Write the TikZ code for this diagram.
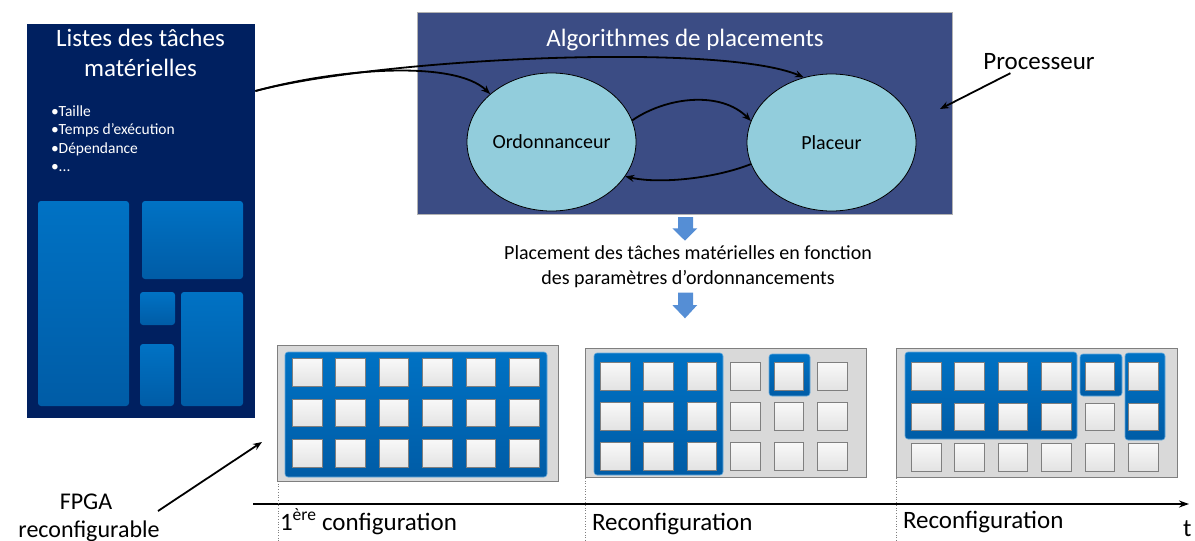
\documentclass[tikz,border=0pt]{standalone}
\usepackage{fontspec}
\setmainfont{Carlito}
\usetikzlibrary{arrows.meta,shapes.geometric}
\definecolor{navy}{RGB}{0,32,96}
\definecolor{procblue}{RGB}{59,76,132}
\definecolor{ellfill}{RGB}{146,205,220}
\definecolor{tblue}{RGB}{0,114,196}
\definecolor{tbluedark}{RGB}{0,92,166}
\definecolor{boxgray}{RGB}{217,217,217}
\definecolor{edgegray}{RGB}{127,127,127}
\definecolor{arrblue}{RGB}{85,142,213}
\begin{document}
\begin{tikzpicture}[x=1pt,y=-1pt,
  lbl/.style={inner sep=0pt, outer sep=0pt},
  big/.style={font=\fontsize{25}{30}\selectfont},
  arr/.style={-{Stealth[length=9pt,width=7pt]}, line width=1.8pt},
  ell/.style={ellipse, draw=black, line width=0.8pt, fill=ellfill, inner sep=0pt,
              font=\fontsize{20}{24}\selectfont},
  tblk/.style={rounded corners=3pt, top color=tblue, bottom color=tbluedark},
  fpgabox/.style={draw=edgegray, line width=0.8pt, fill=boxgray, anchor=north west, inner sep=0pt},
  cell/.style={draw=edgegray, line width=1pt, top color=gray!5, bottom color=gray!22,
               minimum width=29.5pt, minimum height=27.5pt, inner sep=0pt, anchor=north west},
  blueblk/.style={rounded corners=3pt, draw=tblue!60!white, line width=0.6pt,
                  top color=tblue, bottom color=tbluedark},
  vdot/.style={dotted, draw=gray, line width=0.7pt}
]
\useasboundingbox (0,0) rectangle (1195,541);

% ---------- Left panel ----------
\node[fill=navy, minimum width=228pt, minimum height=394pt, anchor=north west, inner sep=0pt] (lst) at (27,24) {};
\node[lbl, big, text=white, anchor=base] (ltitle1) at (140.5,46.5) {Listes des tâches};
\node[lbl, big, text=white, anchor=base] (ltitle2) at (140.5,76) {matérielles};
\begin{scope}[every node/.style={lbl, anchor=base west, text=white, font=\fontsize{15.5}{18}\selectfont}]
\node (b1) at (51,116) {•Taille};
\node (b2) at (51,134.5) {•Temps d’exécution};
\node (b3) at (51,153) {•Dépendance};
\node (b4) at (51,171.5) {•...};
\end{scope}
\shade[tblk] (38,201) rectangle (129,406);
\shade[tblk] (142,201) rectangle (243,279);
\shade[tblk] (140,292) rectangle (175,325);
\shade[tblk] (140,344) rectangle (174,406);
\shade[tblk] (181,292) rectangle (243,406);

% ---------- Processor ----------
\node[draw=gray!60, line width=0.8pt, fill=procblue, minimum width=535pt, minimum height=202pt, anchor=north west, inner sep=0pt] (proc) at (417,12) {};
\node[lbl, big, text=white, anchor=base] (ptitle) at (685,46) {Algorithmes de placements};
\node[ell, minimum width=169pt, minimum height=138pt] (ord) at (551.5,142) {Ordonnanceur};
\node[ell, minimum width=169pt, minimum height=137pt] (pla) at (831.5,142.5) {Placeur};

\draw[arr] ([yshift=-67pt]lst.north east) .. controls (380,58) and (720,42) .. (pla.113);
\draw[arr] ([yshift=-67pt]lst.north east) .. controls (340,68) and (455,60) .. (ord.142);
\draw[arr] (ord.15) .. controls +(35,-24) and +(-30,-30) .. (pla.165);
\draw[arr] (pla.195) .. controls +(-35,14) and +(35,8) .. (ord.335);

\node[lbl, big, anchor=base] (plabel) at (1039,69) {Processeur};
\coordinate (ppt) at (940,109);
\draw[arr] ([xshift=27pt,yshift=-4pt]plabel.south west) -- (ppt);

% ---------- Middle ----------
\fill[arrblue] (678,217) -- (693,217) -- (693,228.3) -- (697.3,228.3) -- (685,240.7) -- (672.3,228.3) -- (678,228.3) -- cycle;
\node[lbl, anchor=base, font=\fontsize{20}{25}\selectfont] (plc1) at (688,259) {Placement des tâches matérielles en fonction};
\node[lbl, anchor=base, font=\fontsize{20}{25}\selectfont] (plc2) at (688,284) {des paramètres d’ordonnancements};
\fill[arrblue] (678,292.7) -- (693,292.7) -- (693,305) -- (697.3,305) -- (685,318.3) -- (672.3,305) -- (678,305) -- cycle;

% ---------- FPGA boxes ----------
\node[fpgabox, minimum width=281pt, minimum height=136pt] (f1) at (277,345) {};
\draw[blueblk] (285,352) rectangle (547,477);
\foreach \i in {0,...,5}{\foreach \j in {0,1,2}{
  \node[cell] at ({292+43.4*\i},{358+40.5*\j}) {};}}

\node[fpgabox, minimum width=281pt, minimum height=129pt] (f2) at (585,348) {};
\draw[blueblk] (594,353) rectangle (723,475);
\draw[blueblk] (769,354) rectangle (810,396);
\foreach \i in {0,...,5}{\foreach \j in {0,1,2}{
  \node[cell] at ({600+43.4*\i},{362+40*\j}) {};}}

\node[fpgabox, minimum width=281pt, minimum height=129pt] (f3) at (896,348) {};
\draw[blueblk] (905,352) rectangle (1077,439);
\draw[blueblk] (1080,354) rectangle (1122,396);
\draw[blueblk] (1125,353) rectangle (1165,440);
\foreach \i in {0,...,5}{\foreach \j in {0,1,2}{
  \node[cell] at ({911+43.4*\i},{362+40.5*\j}) {};}}

% ---------- Timeline ----------
\coordinate (t0) at (253,504);
\coordinate (t1) at (1189,504);
\draw[line width=1.8pt, -{Stealth[length=10pt,width=7pt]}] (t0) -- (t1);
\draw[vdot] (278,481) -- (278,541);
\draw[vdot] (f2.south west) -- (585,541);
\draw[vdot] (f3.south west) -- (896,541);

\node[lbl, big, anchor=base west] (l1) at (280,530) {1\textsuperscript{ère} configuration};
\node[lbl, big, anchor=base west] (l2) at (592,530) {Reconfiguration};
\node[lbl, big, anchor=base west] (l3) at (903,528) {Reconfiguration};
\node[lbl, big, anchor=base west] (tl) at (1183,536) {t};

% ---------- FPGA label ----------
\node[lbl, anchor=base, font=\fontsize{24}{28}\selectfont] (fpga1) at (86,509) {FPGA};
\node[lbl, anchor=base, font=\fontsize{24}{28}\selectfont] (fpga2) at (89,537) {reconfigurable};
\coordinate (fs) at (158,511);
\coordinate (fe) at (262,442);
\draw[arr] (fs) -- (fe);
\end{tikzpicture}
\end{document}
